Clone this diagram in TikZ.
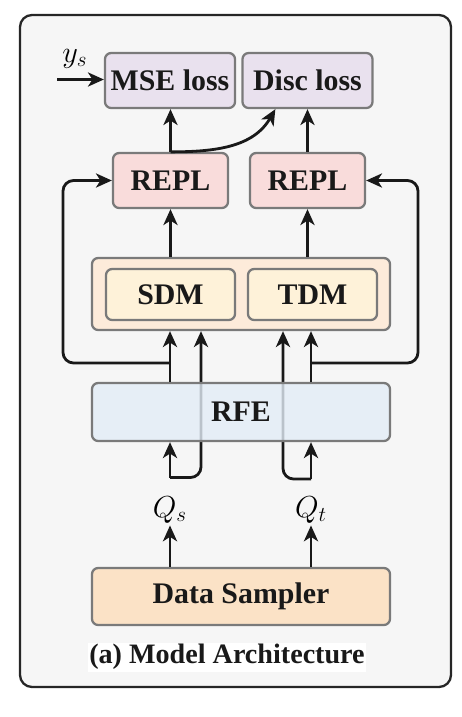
\documentclass[tikz,border=0pt]{standalone}
\usepackage{fontspec}
\setmainfont{Liberation Serif}
\usetikzlibrary{arrows.meta,backgrounds}
\definecolor{bgcol}{HTML}{F6F6F6}
\definecolor{losscol}{HTML}{E9E1EE}
\definecolor{replcol}{HTML}{F9DCDB}
\definecolor{dmcol}{HTML}{FDEBDA}
\definecolor{modcol}{HTML}{FEF2D9}
\definecolor{rfecol}{HTML}{E3EDF7}
\definecolor{dscol}{HTML}{FBE2C6}
\definecolor{edgecol}{HTML}{7A7A7A}
\tikzset{
  box/.style={draw=edgecol, line width=1.3pt, rounded corners=3.5pt, inner sep=0pt,
    font=\fontsize{17}{20}\selectfont\bfseries, text=black!90},
  lossbox/.style={box, fill=losscol, minimum width=2.6cm, minimum height=1.1cm},
  replbox/.style={box, fill=replcol, minimum width=2.3cm, minimum height=1.1cm},
  dmbox/.style={box, fill=dmcol, minimum width=5.96cm, minimum height=1.44cm},
  modbox/.style={box, fill=modcol, minimum width=2.58cm, minimum height=1.02cm},
  rfebox/.style={box, fill=rfecol, fill opacity=0.8, text opacity=1, minimum width=5.96cm, minimum height=1.16cm},
  dsbox/.style={box, fill=dscol, minimum width=5.96cm, minimum height=1.14cm},
  arr/.style={-{Stealth[length=9pt,width=8pt,inset=2.5pt]}, line width=1.6pt, draw=black!90},
  qlabel/.style={inner sep=1pt, font=\fontsize{17}{20}\selectfont}
}
\begin{document}
\begin{tikzpicture}
\useasboundingbox (0,0) rectangle (9.24,-14.34);
\node[lossbox] (mse) at (3.40,-1.61) {MSE loss};
\node[lossbox] (disc) at (6.15,-1.61) {Disc loss};
\node[replbox] (repl1) at (3.41,-3.61) {REPL};
\node[replbox] (repl2) at (6.15,-3.61) {REPL};
\node[dmbox] (dm) at (4.82,-5.88) {};
\node[modbox] (sdm) at (3.41,-5.89) {SDM};
\node[modbox] (tdm) at (6.25,-5.89) {TDM};
\node[rfebox] (rfe) at (4.82,-8.24) {RFE};
\node[qlabel] (qs) at (3.40,-10.20) {$Q_s$};
\node[qlabel] (qt) at (6.22,-10.20) {$Q_t$};
\node[dsbox] (ds) at (4.82,-11.93) {Data Sampler};
\node[fill=white, inner sep=1pt, font=\fontsize{16}{19}\selectfont\bfseries, text=black!90] (cap) at (4.54,-13.14) {(a) Model Architecture};
\node[inner sep=0pt, font=\fontsize{17}{20}\selectfont] (ys) at (1.50,-1.17) {$y_s$};
\coordinate (ysin) at (1.14,-1.59);
\coordinate (lf) at (3.40,-7.26);
\coordinate (rf) at (6.22,-7.26);
\coordinate (lb) at (3.40,-9.55);
\coordinate (rb) at (6.22,-9.58);
\draw[arr] (ysin) -- (ysin -| mse.west);
\draw[arr] (repl1.north) -- (repl1.north |- mse.south);
\draw[arr] (repl2.north) -- (disc.south);
\draw[arr] (repl1.north) to[out=0,in=-120] ([xshift=0.68cm]disc.south west);
\draw[arr] (dm.north -| repl1) -- (repl1.south);
\draw[arr] (dm.north -| repl2) -- (repl2.south);
\draw[arr] (rfe.north -| lf) -- (dm.south -| lf);
\draw[arr] (rfe.north -| rf) -- (dm.south -| rf);
\draw[arr, rounded corners=6pt] (lf) -- (1.26,-7.26) |- (repl1.west);
\draw[arr, rounded corners=6pt] (rf) -- (8.36,-7.26) |- (repl2.east);
\draw[arr] (lb) -- (rfe.south -| lb);
\draw[arr] (rb) -- (rfe.south -| rb);
\draw[arr] (ds.north -| qs) -- (qs.south);
\draw[arr] (ds.north -| qt) -- (qt.south);
\begin{scope}[on background layer]
\draw[draw=black!85, line width=1.3pt, fill=bgcol, rounded corners=0.24cm] (0.40,-0.30) rectangle (9.02,-13.74);
\draw[arr, rounded corners=6pt] (lb) -| ([xshift=0.62cm]dm.south -| lb);
\draw[arr, rounded corners=6pt] (rb) -| ([xshift=-0.56cm]dm.south -| rb);
\end{scope}
\end{tikzpicture}
\end{document}
